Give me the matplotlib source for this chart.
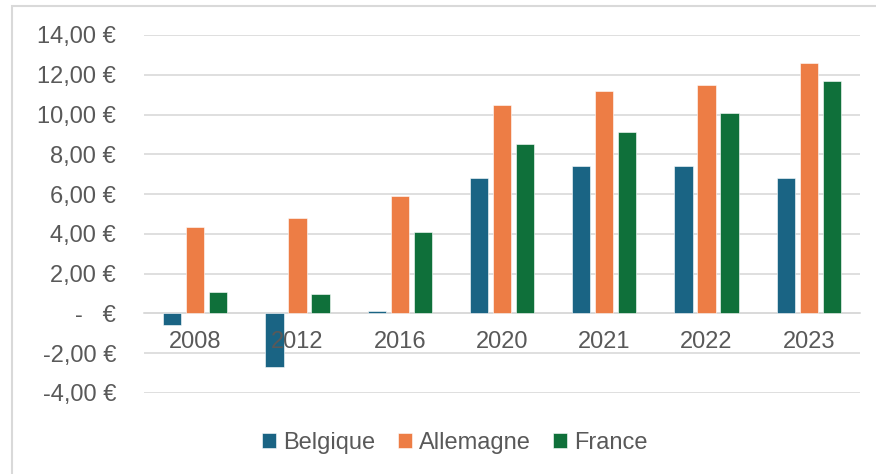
import numpy as np
import matplotlib.pyplot as plt
from matplotlib.patches import Rectangle
from matplotlib.ticker import FuncFormatter

plt.rcParams['font.family'] = ['Liberation Sans', 'DejaVu Sans']

years = ["2008", "2012", "2016", "2020", "2021", "2022", "2023"]
belgique = [-0.6, -2.7, 0.1, 6.8, 7.4, 7.4, 6.8]
allemagne = [4.35, 4.8, 5.9, 10.5, 11.2, 11.5, 12.6]
france = [1.1, 1.0, 4.1, 8.5, 9.1, 10.1, 11.7]

series = [("Belgique", belgique, "#1a6484"),
          ("Allemagne", allemagne, "#ed7d45"),
          ("France", france, "#0f703a")]

grey = "#595959"
grid = "#d9d9d9"


def euro(v, pos):
    if abs(v) < 1e-9:
        return "-   €"
    return ("%.2f €" % v).replace(".", ",")


fig = plt.figure(figsize=(8.76, 4.74), dpi=100)
ax = fig.add_axes([144 / 876, 1 - 393 / 474, (860 - 144) / 876, (393 - 35) / 474])

x = np.arange(len(years))
w = 0.178
step = 0.225
for i, (name, vals, col) in enumerate(series):
    ax.bar(x + (i - 1) * step, vals, w, color=col, label=name, zorder=3,
           edgecolor="white", linewidth=0.4)

ax.set_ylim(-4, 14)
ax.set_xlim(-0.5, len(years) - 0.5)
ax.set_yticks(np.arange(-4, 15, 2))
ax.yaxis.set_major_formatter(FuncFormatter(euro))
ax.grid(axis="y", color=grid, linewidth=1.2, zorder=0)
ax.set_axisbelow(True)

for s in ["top", "right", "left"]:
    ax.spines[s].set_visible(False)
ax.spines["bottom"].set_position(("data", 0))
ax.spines["bottom"].set_color(grid)
ax.spines["bottom"].set_linewidth(1.2)
ax.spines["bottom"].set_zorder(1)

ax.set_xticks(x)
ax.set_xticklabels(years)
ax.xaxis.set_zorder(5)
ax.tick_params(axis="x", length=0, pad=13, labelsize=17, colors=grey)
ax.tick_params(axis="y", length=0, pad=20, labelsize=17, colors=grey)

fig.legend(loc="center", bbox_to_anchor=(455 / 876, 1 - 443 / 474), ncol=3,
           frameon=False, fontsize=17, labelcolor=grey, handlelength=0.6,
           handleheight=0.6, handletextpad=0.3, columnspacing=0.95)

fig.patches.append(Rectangle((12 / 876, -0.05), 1.0, 1 - 6 / 474 + 0.05,
                             transform=fig.transFigure, fill=False,
                             edgecolor=grid, linewidth=1.5))

fig.savefig("out.png", dpi=100)
